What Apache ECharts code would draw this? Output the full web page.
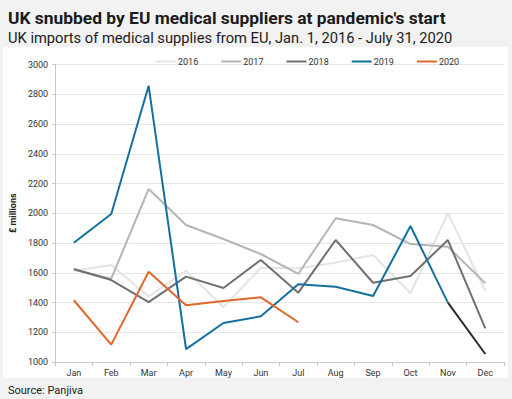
<!DOCTYPE html>
<html><head><meta charset="utf-8">
<script src="https://cdn.jsdelivr.net/npm/echarts@6/dist/echarts.min.js"></script>
<style>html,body{margin:0;padding:0;background:#f2f2f2;}#c{width:512px;height:399px;}</style>
</head><body><div id="c"></div>
<script>
const months = ['Jan','Feb','Mar','Apr','May','Jun','Jul','Aug','Sep','Oct','Nov','Dec'];
const y2016 = [1614,1652,1440,1614,1368,1634,1630,1668,1719,1462,2000,1479];
const y2017 = [1620,1560,2163,1921,1827,1726,1592,1966,1921,1793,1775,1529];
const y2018 = [1625,1551,1403,1574,1497,1686,1466,1820,1533,1578,1820,1226];
const y2019 = [1802,1995,2857,1087,1262,1307,1522,1506,1444,1914,1399,1054];
const y2020 = [1415,1117,1607,1381,1410,1435,1267];
const yTicks = [1000,1200,1400,1600,1800,2000,2200,2400,2600,2800,3000];

const FONT = 'Roboto, "Liberation Sans", sans-serif';
const chart = echarts.init(document.getElementById('c'), null, {renderer:'svg'});
const mk = (name, data, color, z) => ({
  name, type:'line', data, symbol:'none', smooth:false, z:z||2,
  lineStyle:{width:2, color}, itemStyle:{color}
});
// 2019 Nov-Dec segment drawn dark, as in the reference
const y2019tail = y2019.map((v,i)=> i>=10 ? v : null);
const y2019head = y2019.map((v,i)=> i<=10 ? v : null);
chart.setOption({
  animation:false,
  backgroundColor:'#f2f2f2',
  textStyle:{fontFamily:FONT},
  title:[
    {text:"UK snubbed by EU medical suppliers at pandemic's start", left:3, top:4,
     textStyle:{fontSize:17.4, fontWeight:'bold', color:'#1a1a1a', fontFamily:FONT}},
    {text:'UK imports of medical supplies from EU, Jan. 1, 2016 - July 31, 2020', left:3, top:25,
     textStyle:{fontSize:14.7, fontWeight:'normal', color:'#1a1a1a', fontFamily:FONT}},
    {text:'Source: Panjiva', left:3, top:380,
     textStyle:{fontSize:11, fontWeight:'normal', color:'#1a1a1a', fontFamily:FONT}}
  ],
  graphic:[{type:'rect', z:-10, shape:{x:3, y:47, width:505, height:331}, style:{fill:'#ffffff'}}],
  legend:{
    top:52, left:151, itemGap:23, itemWidth:20, itemHeight:2,
    icon:'rect', textStyle:{fontSize:9, color:'#333', padding:[0,0,0,-3]},
    data:['2016','2017','2018','2019','2020']
  },
  grid:{left:47, right:8, top:64.5, bottom:37},
  xAxis:{type:'category', data:months, boundaryGap:true,
    axisLine:{lineStyle:{color:'#c8c8c8'}},
    axisTick:{show:true, length:4, lineStyle:{color:'#c8c8c8'}},
    axisLabel:{fontSize:9, color:'#333', margin:6}
  },
  yAxis:{type:'value', min:1000, max:3000, interval:200,
    name:'£ millions', nameLocation:'middle', nameGap:28, nameRotate:90,
    nameTextStyle:{fontSize:9, fontWeight:'bold', color:'#222'},
    axisLine:{show:true, lineStyle:{color:'#c8c8c8'}},
    axisTick:{show:true, length:3, lineStyle:{color:'#c8c8c8'}},
    axisLabel:{fontSize:9, color:'#333', margin:7, formatter:v=>yTicks.includes(v)?String(v):''},
    splitLine:{lineStyle:{color:'#e6e6e6'}}
  },
  series:[
    mk('2016', y2016, '#e4e4e4'),
    mk('2017', y2017, '#b5b5b5'),
    mk('2018', y2018, '#707070'),
    mk('2019', y2019head, '#13709f', 3),
    mk('2019 tail', y2019tail, '#2b2b2b', 3),
    mk('2020', y2020, '#e2672b', 4)
  ]
});
</script></body></html>
